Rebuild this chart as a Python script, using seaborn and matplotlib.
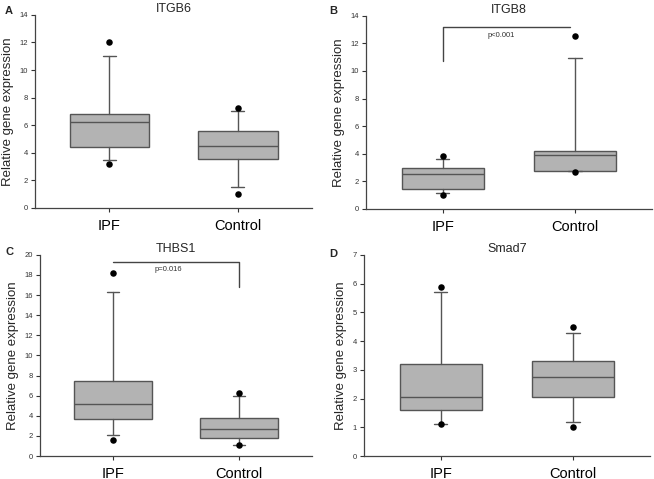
import numpy as np
import pandas as pd
import seaborn as sns
import matplotlib
matplotlib.use("Agg")
import matplotlib.pyplot as plt

# box statistics, order is [IPF, Control]
genes = ["ITGB6", "ITGB8", "THBS1", "Smad7"]
groups = ["IPF", "Control"]
whisker_low = {"ITGB6": [3.5, 1.5], "ITGB8": [1.15, 2.75], "THBS1": [2.1, 1.05], "Smad7": [1.13, 1.18]}
q1 = {"ITGB6": [4.4, 3.55], "ITGB8": [1.45, 2.78], "THBS1": [3.65, 1.8], "Smad7": [1.6, 2.07]}
median = {"ITGB6": [6.25, 4.5], "ITGB8": [2.54, 3.89], "THBS1": [5.2, 2.7], "Smad7": [2.04, 2.74]}
q3 = {"ITGB6": [6.8, 5.55], "ITGB8": [2.97, 4.18], "THBS1": [7.5, 3.75], "Smad7": [3.19, 3.31]}
whisker_high = {"ITGB6": [11.0, 7.05], "ITGB8": [3.65, 10.95], "THBS1": [16.3, 6.0], "Smad7": [5.7, 4.29]}
# 5th / 95th percentile dots
dot_low = {"ITGB6": [3.15, 1.0], "ITGB8": [1.04, 2.66], "THBS1": [1.6, 1.05], "Smad7": [1.1, 1.02]}
dot_high = {"ITGB6": [12.0, 7.25], "ITGB8": [3.82, 12.5], "THBS1": [18.2, 6.25], "Smad7": [5.88, 4.48]}
y_max = {"ITGB6": 14, "ITGB8": 14, "THBS1": 20, "Smad7": 7}
y_step = {"ITGB6": 2, "ITGB8": 2, "THBS1": 2, "Smad7": 1}
letters = ["A", "B", "C", "D"]
# significance brackets: gene -> (text, bar height, drop height)
brackets = {"ITGB8": ("p<0.001", 13.16, 10.75), "THBS1": ("p=0.016", 19.3, 16.8)}

sns.set_style("ticks")
plt.rcParams["font.family"] = ["Liberation Sans", "DejaVu Sans"]

box_face = "#b3b3b3"
edge = "#555555"

fig = plt.figure(figsize=(6.54, 4.79), dpi=100)
rects = [
    [0.0535, 0.566, 0.424, 0.403],
    [0.5596, 0.564, 0.437, 0.403],
    [0.061, 0.048, 0.416, 0.42],
    [0.5566, 0.048, 0.437, 0.42],
]
letter_pos = [(0.013, 0.977), (0.509, 0.977), (0.015, 0.474), (0.509, 0.470)]

for i, gene in enumerate(genes):
    ax = fig.add_axes(rects[i])
    stats = []
    for j, g in enumerate(groups):
        stats.append({
            "label": g,
            "whislo": whisker_low[gene][j],
            "q1": q1[gene][j],
            "med": median[gene][j],
            "q3": q3[gene][j],
            "whishi": whisker_high[gene][j],
            "fliers": [],
        })
    ax.bxp(stats, positions=[0, 1], widths=0.62, patch_artist=True,
           showfliers=False, capwidths=0.1,
           boxprops=dict(facecolor=box_face, edgecolor=edge, linewidth=1.0),
           medianprops=dict(color=edge, linewidth=1.0),
           whiskerprops=dict(color=edge, linewidth=1.0),
           capprops=dict(color=edge, linewidth=1.0))

    dots = pd.DataFrame({
        "pos": [0, 1, 0, 1],
        "value": dot_low[gene] + dot_high[gene],
    })
    sns.scatterplot(data=dots, x="pos", y="value", color="black", s=22,
                    edgecolor="black", linewidth=0, ax=ax, zorder=5)

    if gene in brackets:
        txt, top, drop = brackets[gene]
        if gene == "ITGB8":
            ax.plot([0, 0, 0.96], [drop, top, top], color="#444444", lw=1.0)
        else:
            ax.plot([0, 1, 1], [top, top, drop], color="#444444", lw=1.0)
        ax.text(0.44, top - (0.6 if gene == "ITGB8" else 0.8), txt,
                ha="center", va="center", fontsize=5.5, color="#333333")

    ax.set_xlim(-0.58, 1.58)
    ax.set_ylim(0, y_max[gene])
    ax.set_yticks(np.arange(0, y_max[gene] + 1, y_step[gene]))
    ax.set_xticks([0, 1])
    ax.set_xticklabels(groups, fontsize=10.5)
    ax.tick_params(axis="y", labelsize=5.5, length=3, width=0.8, pad=2, colors="#333333")
    ax.tick_params(axis="x", length=3, width=0.8, pad=5, colors="#333333", labelcolor="black")
    ax.set_xlabel("")
    ax.set_ylabel("Relative gene expression", fontsize=9.5, labelpad=4)
    ax.set_title(gene, fontsize=9, pad=2)
    for s in ["left", "bottom"]:
        ax.spines[s].set_color("#444444")
        ax.spines[s].set_linewidth(0.9)
    sns.despine(ax=ax)

    fig.text(letter_pos[i][0], letter_pos[i][1], letters[i], fontsize=8,
             fontweight="bold", ha="center", va="center")

fig.savefig("out.png", dpi=100)
